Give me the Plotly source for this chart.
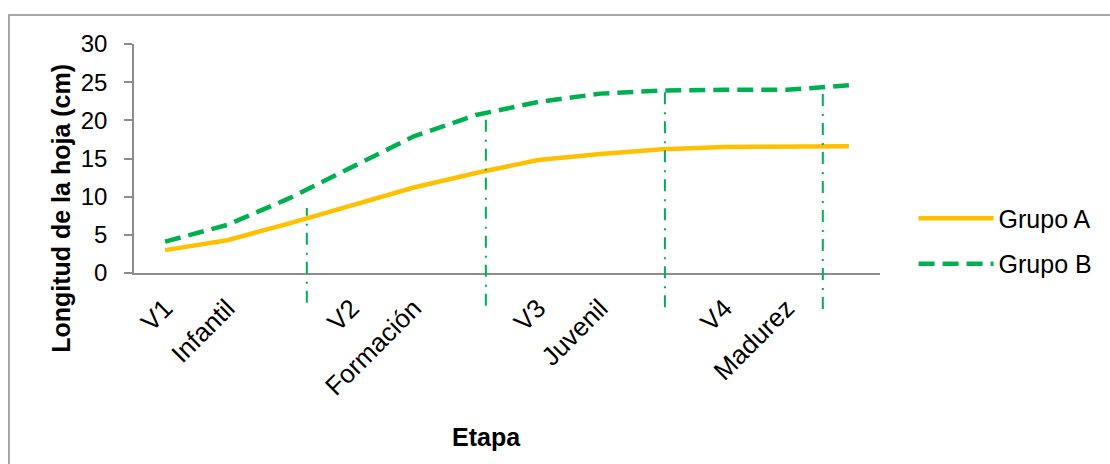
import plotly.graph_objects as go

# Leaf length per development stage
labels = ["V1", "Infantil", "", "V2", "Formación", "", "V3", "Juvenil", "", "V4", "Madurez", ""]
grupo_a = [3.0, 4.3, 6.5, 8.8, 11.2, 13.1, 14.8, 15.6, 16.2, 16.5, 16.6, 16.6]
grupo_b = [4.1, 6.3, 9.8, 13.9, 17.9, 20.7, 22.4, 23.5, 23.9, 24.0, 24.0, 24.6]

# Stage boundary markers (category position, top value, bottom value)
boundary_pos = [2.28, 5.16, 8.04, 10.58]
boundary_top = [8.5, 20.9, 24.0, 24.9]
boundary_bottom = [-3.9, -4.3, -4.5, -4.7]

y_range = [0, 30]
idx = list(range(len(labels)))

FONT = "Liberation Sans, Arial, sans-serif"
GREEN = "#00B050"
YELLOW = "#FFC000"
AXIS = "#8C8C8C"

fig = go.Figure()
fig.add_trace(go.Scatter(x=idx, y=grupo_a, mode="lines", name="Grupo A",
                         legendgroup="a",
                         line=dict(color=YELLOW, width=4.5)))
fig.add_trace(go.Scatter(x=idx, y=grupo_b, mode="lines", name="Grupo B",
                         legendgroup="b",
                         line=dict(color=GREEN, width=4.5, dash="16px,8px")))

span = y_range[1] - y_range[0]
for xp, yt, yb in zip(boundary_pos, boundary_top, boundary_bottom):
    fig.add_shape(type="line", xref="x", yref="paper",
                  x0=xp, x1=xp,
                  y0=(yb - y_range[0]) / span, y1=(yt - y_range[0]) / span,
                  line=dict(color=GREEN, width=2, dash="12px,7px,2px,8px"))

# chart border
fig.add_shape(type="rect", xref="paper", yref="paper",
              x0=-0.1676, x1=1.32, y0=-0.9, y1=1.1266,
              line=dict(color="#8A8A8A", width=1.5), fillcolor="rgba(0,0,0,0)",
              layer="below")

tick_vals = [i for i, t in zip(idx, labels) if t]
tick_text = [t for t in labels if t]

fig.update_layout(
    width=1110, height=464,
    margin=dict(l=134, r=230, t=44, b=191),
    paper_bgcolor="white", plot_bgcolor="white",
    font=dict(family=FONT, size=24, color="black"),
    showlegend=True,
    legend=dict(x=1.045, y=0.14, xanchor="left", yanchor="middle",
                font=dict(size=25), itemwidth=75,
                traceorder="grouped", tracegroupgap=10,
                bgcolor="rgba(0,0,0,0)"),
    xaxis=dict(range=[-0.5, len(labels) - 0.5], tickmode="array",
               tickvals=tick_vals, ticktext=tick_text, tickangle=-45,
               showline=True, linecolor=AXIS, linewidth=1.5,
               showgrid=False, zeroline=False, ticks="",
               ticklabelstandoff=8,
               tickfont=dict(size=26)),
    yaxis=dict(range=y_range, tickmode="linear", tick0=0, dtick=5,
               showline=True, linecolor=AXIS, linewidth=1.5,
               ticks="outside", ticklen=8, tickcolor=AXIS, tickwidth=1.5,
               showgrid=False, zeroline=False, ticklabelstandoff=12,
               tickfont=dict(size=24)),
    annotations=[
        dict(text="<b>Longitud de la hoja (cm)</b>", textangle=-90,
             xref="paper", yref="paper", x=-0.098, y=0.284,
             xanchor="center", yanchor="middle",
             showarrow=False, font=dict(size=25)),
        dict(text="<b>Etapa</b>", xref="paper", yref="paper",
             x=0.472, y=-0.716, xanchor="center", yanchor="middle",
             showarrow=False, font=dict(size=25)),
    ],
)

fig.write_html("out.html")
